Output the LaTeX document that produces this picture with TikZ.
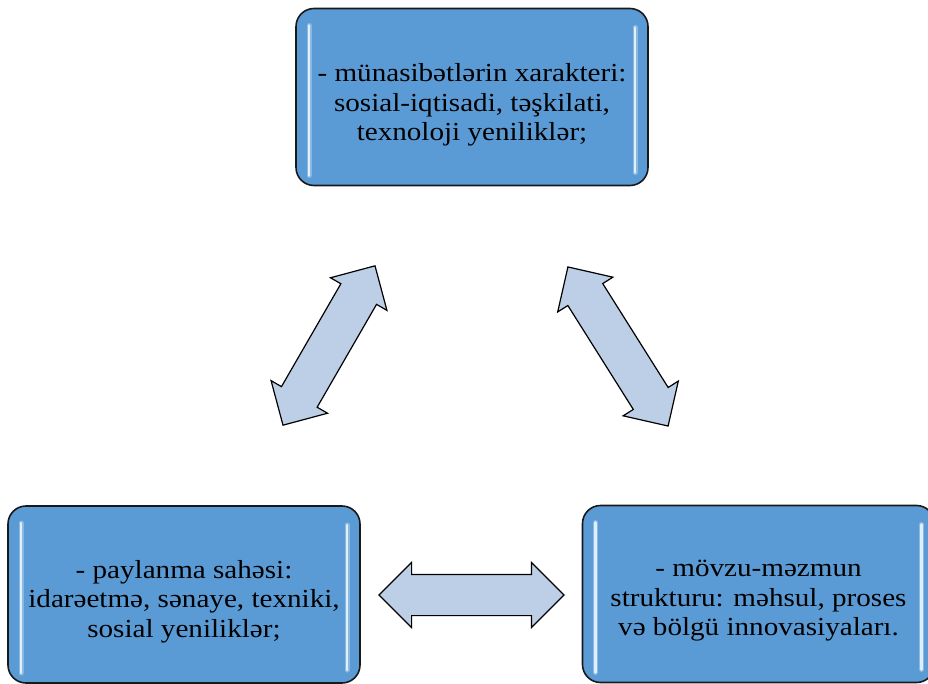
\documentclass[tikz,border=0pt]{standalone}
\usepackage{fontspec}
\setmainfont{Liberation Serif}[FakeStretch=1.12]
\usetikzlibrary{positioning,shapes.arrows}
\definecolor{boxblue}{RGB}{91,155,213}
\definecolor{arrowblue}{RGB}{188,207,231}
\definecolor{glint}{RGB}{222,240,255}

\begin{document}
\begin{tikzpicture}[x=1pt, y=1pt,
	area/.style={rectangle, rounded corners=18pt, draw=black!90, line width=1.6pt, fill=boxblue,
		minimum width=352pt, minimum height=177pt,
		path picture={
			\draw[boxblue!40!white, line width=5pt, opacity=.5, line cap=round] ([xshift=13pt,yshift=-17pt]path picture bounding box.north west) -- ([xshift=13pt,yshift=10pt]path picture bounding box.south west);
			\draw[boxblue!40!white, line width=5pt, opacity=.5, line cap=round] ([xshift=-13pt,yshift=-19pt]path picture bounding box.north east) -- ([xshift=-13pt,yshift=13pt]path picture bounding box.south east);
			\draw[glint, line width=2.6pt, line cap=round] ([xshift=13pt,yshift=-17pt]path picture bounding box.north west) -- ([xshift=13pt,yshift=10pt]path picture bounding box.south west);
			\draw[glint, line width=2.6pt, line cap=round] ([xshift=-13pt,yshift=-19pt]path picture bounding box.north east) -- ([xshift=-13pt,yshift=13pt]path picture bounding box.south east);
		}},
	words/.style={align=center, font=\fontsize{26}{29.5}\selectfont},
	link/.style={double arrow, draw=black, line width=1.2pt, inner xsep=0pt, inner ysep=20pt,
		text height=0pt, text depth=0pt, minimum width=64pt, double arrow head extend=12pt,
		double arrow tip angle=90, fill=arrowblue}
	]
	\useasboundingbox (0,0) rectangle (928,-684);
	\clip (0,0) rectangle (928,-684);
	% the three fields
	\node[area] (relation) at (472,-97) {};
	\node[area] (spread) at (184,-594.5) {};
	\node[area] (content) at (758.5,-594) {};
	\node[words] (relationtext) at ([yshift=-8pt]relation.center) {- münasibətlərin xarakteri:\\ sosial-iqtisadi, təşkilati,\\ texnoloji yeniliklər;};
	\node[words] (spreadtext) at ([yshift=-7pt]spread.center) {- paylanma sahəsi:\\ idarəetmə, sənaye, texniki,\\ sosial yeniliklər;};
	\node[words] (contenttext) at ([yshift=-7pt]content.center) {- mövzu-məzmun\\ strukturu: məhsul, proses\\ və bölgü innovasiyaları.};
	% two-way links
	\node[link, minimum height=184pt, rotate=60] (linkleft) at (329,-345.5) {};
	\node[link, minimum height=188pt, rotate=-57.8] (linkright) at (618,-346.5) {};
	\node[link, minimum height=185pt] (linkbottom) at (471.5,-595) {};
\end{tikzpicture}
\end{document}
